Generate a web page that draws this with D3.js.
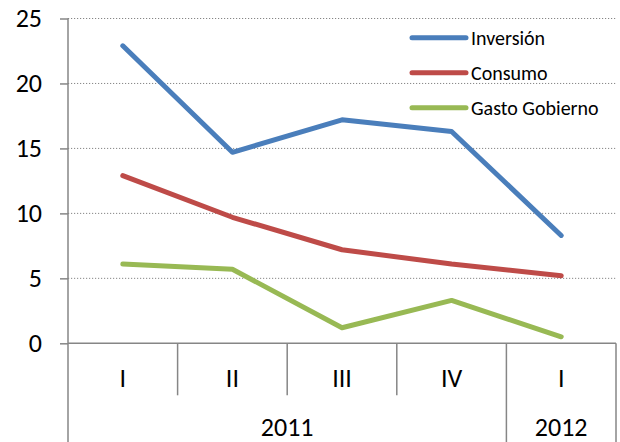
<!DOCTYPE html>
<html>
<head>
<meta charset="utf-8">
<script src="https://cdn.jsdelivr.net/npm/d3@7"></script>
<style>
  body { margin: 0; background: #fff; }
  svg { display: block; font-family: Carlito, Calibri, Lato, sans-serif; }
</style>
</head>
<body>
<div id="chart"></div>
<script>
// quarters and their years
var quarters = ["I", "II", "III", "IV", "I"];
var years = ["2011", "2012"];
var yearSpans = [4, 1];

var seriesNames = ["Inversión", "Consumo", "Gasto Gobierno"];
var inversion = [22.9, 14.7, 17.2, 16.3, 8.3];
var consumo = [12.9, 9.7, 7.2, 6.1, 5.2];
var gasto = [6.1, 5.7, 1.2, 3.3, 0.5];
var yTicks = [0, 5, 10, 15, 20, 25];

var colors = ["#4a7ebb", "#be4b48", "#98b954"];
var axisColor = "#868686";

var width = 620, height = 442;
var margin = { top: 18.5, left: 68, right: 4, bottom: 98.7 };
var labelSize = 26;

var svg = d3.select("#chart").append("svg")
  .attr("width", width)
  .attr("height", height);

var x = d3.scaleBand()
  .domain(d3.range(quarters.length))
  .range([margin.left, width - margin.right])
  .padding(0);

var y = d3.scaleLinear()
  .domain([0, 25])
  .range([height - margin.bottom, margin.top]);

var y0 = y(0);

// dotted grid lines
svg.append("g")
  .selectAll("line")
  .data(yTicks.filter(function (d) { return d > 0; }))
  .enter()
  .append("line")
  .attr("x1", margin.left)
  .attr("x2", width - margin.right)
  .attr("y1", function (d) { return y(d); })
  .attr("y2", function (d) { return y(d); })
  .attr("stroke", axisColor)
  .attr("stroke-width", 1)
  .attr("stroke-dasharray", "1.2,1.8");

// y axis
var yAxis = svg.append("g")
  .attr("transform", "translate(" + margin.left + ",0)")
  .call(d3.axisLeft(y).tickValues(yTicks).tickSize(8).tickPadding(18));
yAxis.select(".domain").remove();
yAxis.selectAll(".tick line").attr("stroke", axisColor).attr("stroke-width", 1.5);
yAxis.selectAll(".tick text")
  .attr("font-size", labelSize)
  .attr("fill", "#000")
  .attr("font-family", "Carlito, Calibri, Lato, sans-serif");

svg.append("line")
  .attr("x1", margin.left).attr("x2", margin.left)
  .attr("y1", margin.top).attr("y2", height)
  .attr("stroke", axisColor).attr("stroke-width", 1.5);

// category axis frame
svg.append("line")
  .attr("x1", margin.left).attr("x2", width - margin.right)
  .attr("y1", y0).attr("y2", y0)
  .attr("stroke", axisColor).attr("stroke-width", 1.5);

svg.append("line")
  .attr("x1", width - margin.right).attr("x2", width - margin.right)
  .attr("y1", y0).attr("y2", height)
  .attr("stroke", axisColor).attr("stroke-width", 1.5);

// separators between quarters; longer at the year boundary
var yearEnds = [];
var acc = 0;
yearSpans.forEach(function (n) { acc += n; yearEnds.push(acc); });

svg.append("g")
  .selectAll("line")
  .data(d3.range(1, quarters.length))
  .enter()
  .append("line")
  .attr("x1", function (i) { return x(i); })
  .attr("x2", function (i) { return x(i); })
  .attr("y1", y0)
  .attr("y2", function (i) { return yearEnds.indexOf(i) >= 0 ? height : y0 + 52; })
  .attr("stroke", axisColor)
  .attr("stroke-width", 1.5);

svg.append("g")
  .selectAll("text")
  .data(quarters)
  .enter()
  .append("text")
  .attr("x", function (d, i) { return x(i) + x.bandwidth() / 2; })
  .attr("y", y0 + 43.5)
  .attr("text-anchor", "middle")
  .attr("font-size", labelSize)
  .text(function (d) { return d; });

svg.append("g")
  .selectAll("text")
  .data(years)
  .enter()
  .append("text")
  .attr("x", function (d, i) {
    var start = i === 0 ? 0 : yearEnds[i - 1];
    return (x(start) + x(yearEnds[i] - 1) + x.bandwidth()) / 2;
  })
  .attr("y", 436)
  .attr("text-anchor", "middle")
  .attr("font-size", labelSize)
  .text(function (d) { return d; });

// series lines
var line = d3.line()
  .x(function (d, i) { return x(i) + x.bandwidth() / 2; })
  .y(function (d) { return y(d); });

svg.append("g")
  .selectAll("path")
  .data([inversion, consumo, gasto])
  .enter()
  .append("path")
  .attr("d", line)
  .attr("fill", "none")
  .attr("stroke", function (d, i) { return colors[i]; })
  .attr("stroke-width", 5)
  .attr("stroke-linejoin", "round")
  .attr("stroke-linecap", "round");

// legend
var legend = svg.append("g")
  .selectAll("g")
  .data(seriesNames)
  .enter()
  .append("g")
  .attr("transform", function (d, i) { return "translate(412," + (37.7 + i * 35) + ")"; });

legend.append("line")
  .attr("x1", 0).attr("x2", 54)
  .attr("stroke", function (d, i) { return colors[i]; })
  .attr("stroke-width", 5)
  .attr("stroke-linecap", "round");

legend.append("text")
  .attr("x", 59)
  .attr("dy", "0.35em")
  .attr("font-size", 20)
  .text(function (d) { return d; });
</script>
</body>
</html>
